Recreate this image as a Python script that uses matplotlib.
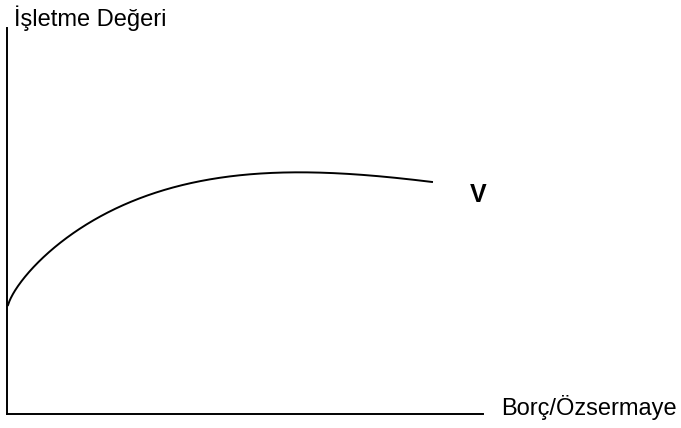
import matplotlib.pyplot as plt
import numpy as np

plt.rcParams['font.family'] = ['Liberation Sans', 'DejaVu Sans']

# borç/özsermaye oranı ve işletme değeri (şekilden okunan göreli değerler)
borc_ozsermaye = [1, 10, 26, 43, 60, 76, 100, 133, 166, 200, 243, 296, 346, 380, 425]
isletme_degeri = [109, 126, 147, 163, 176, 187, 201, 216, 227, 234, 239.5, 241.5, 240, 237, 232]

y_label = "İşletme Değeri"
x_label = "Borç/Özsermaye"
egri_adi = "V"

fig = plt.figure(figsize=(6.81, 4.28), dpi=100)
ax = fig.add_axes([7 / 681, 14 / 428, 476 / 681, 386 / 428])

# okunan noktalara kök ölçeğinde yumuşak bir eğri uydur
x = np.array(borc_ozsermaye, float)
y = np.array(isletme_degeri, float)
u = np.sqrt(x)
katsayi = np.polyfit(u, y, 5)
xs = np.linspace(x[0], x[-1], 600)
ys = np.polyval(katsayi, np.sqrt(xs))
ax.plot(xs, ys, color="black", linewidth=1.4)

ax.set_xlim(0, 476)
ax.set_ylim(0, 386)
ax.spines['top'].set_visible(False)
ax.spines['right'].set_visible(False)
ax.spines['left'].set_linewidth(1.4)
ax.spines['bottom'].set_linewidth(1.4)
ax.set_xticks([])
ax.set_yticks([])

ax.text(7, 388, y_label, fontsize=17, va="baseline", ha="left", clip_on=False)
ax.text(494, -1, x_label, fontsize=17, va="baseline", ha="left", clip_on=False)
ax.text(471, 219.5, egri_adi, fontsize=18, fontweight="bold", va="center", ha="center", clip_on=False)

plt.savefig("out.png", dpi=100)
